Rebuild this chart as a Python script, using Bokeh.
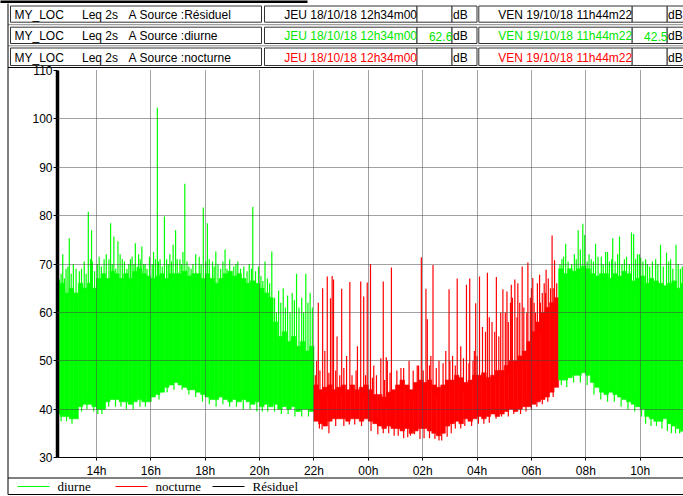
import numpy as np
from bokeh.plotting import figure
from bokeh.models import Range1d, FixedTicker, ColumnDataSource
from bokeh.embed import file_html
from bokeh.resources import INLINE
from bokeh.core.properties import value

# ---------------- data ----------------
# time in hours counted from midnight of JEU 18/10/18 (next day = 24 + h)
START_H = 12 + 34 / 60.0                      # JEU 18/10/18 12h34m00
END_H = 24 + 11 + 44 / 60.0 + 22 / 3600.0     # VEN 19/10/18 11h44m22
VIEW_END_H = 35.594                           # right edge of the visible window
NIGHT_START, NIGHT_END = 22.0, 31.0           # nocturne 22h -> 07h
BIN_H = 10 / 60.0
bin_start = 12.5 + BIN_H * np.arange(140)     # 10-min bins 12h30 ... 11h40

# lower envelope of each 10-min bin (dB)
level_low = [
    39, 38.5, 38.5,                      # 12h30-12h50
    38, 38, 40.5, 41, 41, 40.5,          # 13h
    40, 40, 41.5, 42, 42, 41.5,          # 14h
    41.5, 41, 41.5, 42, 41.5, 41.5,      # 15h
    42.5, 43, 43.5, 44.5, 45, 45.5,      # 16h
    45, 44.5, 44, 44, 43.5, 43,          # 17h
    42.5, 42, 42, 42.5, 42, 41.5,        # 18h
    42, 41.5, 42, 41.5, 41, 41.5,        # 19h
    40.5, 41, 40.5, 41, 40, 40.5,        # 20h
    40, 40.5, 39.5, 40, 40, 39.5,        # 21h
    37.5, 37, 36.5, 37.5, 38, 38,        # 22h
    38, 37.5, 38, 38, 37.5, 38,          # 23h
    37.5, 37, 36.5, 36, 36.5, 36,        # 00h
    36, 35.5, 36, 35, 35.5, 36,          # 01h
    36, 35.5, 35, 34.5, 35, 36.5,        # 02h
    37, 37.5, 37, 38, 37.5, 38,          # 03h
    38.5, 38, 38.5, 39, 38.5, 39,        # 04h
    39.5, 40, 39.5, 40, 40.5, 40.5,      # 05h
    41, 41.5, 42, 42.5, 43.5, 44.5,      # 06h
    46, 46, 46.5, 47, 47, 47.5,          # 07h
    47, 45.5, 44.5, 43.5, 43, 43.5,      # 08h
    43, 42.5, 42, 41.5, 41, 40.5,        # 09h
    40, 38.5, 38, 37.5, 37.5, 38,        # 10h
    37, 36.5, 36, 35.5, 36,              # 11h-11h40
]
# upper envelope of the dense part of each bin (dB)
level_high = [
    65, 66, 64,
    65, 64, 66, 65, 66, 65,
    67, 68, 67, 68.5, 68, 67,
    68, 67, 68.5, 69, 68, 67.5,
    67, 67.5, 68, 67, 68, 68,
    68, 68.5, 67.5, 68, 68, 67,
    68, 67, 66, 67, 68, 68.5,
    67.5, 68, 67, 66, 66.5, 66,
    65, 64, 63, 58, 55, 56,
    54, 55, 53, 54, 52, 53,
    45, 44, 44.5, 45, 44, 44.5,
    45, 44, 45, 44, 44.5, 45,
    44, 43, 43, 42.5, 43.5, 44,
    45, 46, 45, 44, 45.5, 46,
    45.5, 46, 45, 44.5, 45, 46,
    46, 47, 46.5, 45.5, 46, 47,
    47, 47.5, 46.5, 47, 48, 48,
    49, 50, 50, 51, 52, 54,
    56, 58, 60, 61, 62, 63,
    69, 68, 69, 68.5, 69, 69.5,
    69, 68, 67.5, 68, 68, 67,
    68, 67.5, 68.5, 68, 66.5, 67,
    67.5, 66, 67, 66.5, 66, 65.5,
    66, 66.5, 65, 66, 65,
]

# isolated high readings (time h, level dB)
diurne_peak_t = [
    12.76, 13.0, 13.70, 13.82, 14.52, 14.64, 14.79, 15.43, 15.67, 16.24,
    16.50, 16.91, 17.25, 17.93, 18.08, 18.39, 18.73, 19.75, 20.2, 20.45,
    12.64, 12.88, 13.25, 13.37, 13.55, 13.85, 14.1, 14.28, 14.46, 14.95,
    15.19, 15.31, 15.55, 15.79, 16.1, 16.34, 16.7, 16.82, 17.07, 17.18,
    17.48, 17.78, 18.27, 18.57, 19.05, 19.3, 19.54, 19.96, 20.29,
    20.55, 20.62, 20.7, 20.78, 20.87, 20.95, 21.03, 21.12, 21.2, 21.28,
    21.36, 21.45, 21.55, 21.62, 21.7, 21.78, 21.86, 21.94,
    12.7, 12.82, 12.95, 13.07, 13.15, 13.45, 13.62, 13.78, 13.93, 14.03,
    14.18, 14.36, 14.58, 14.71, 14.87, 15.03, 15.12, 15.25, 15.38, 15.5,
    15.61, 15.74, 15.86, 15.95, 16.05, 16.17, 16.28, 16.42, 16.58, 16.64,
    16.76, 16.97, 17.12, 17.33, 17.4, 17.55, 17.65, 17.85, 18.02, 18.15,
    18.33, 18.47, 18.65, 18.8, 18.9, 19.13, 19.2, 19.42, 19.62, 19.7,
    19.85, 20.05, 20.12, 20.37,
    31.26, 31.72, 31.89, 31.96, 32.36, 32.73, 32.99, 33.24, 33.68, 33.76,
    34.02, 34.57, 34.75, 34.97, 35.32, 31.18, 31.48, 32.2, 32.57, 32.87,
    33.42, 33.9, 34.27, 35.12, 35.48,
    31.05, 31.12, 31.35, 31.58, 31.65, 31.8, 32.05, 32.12, 32.28, 32.45,
    32.64, 32.8, 32.95, 33.08, 33.17, 33.33, 33.5, 33.6, 33.83, 33.97,
    34.1, 34.2, 34.35, 34.45, 34.65, 34.85, 35.05, 35.2, 35.4, 35.55,
]
diurne_peak_db = [
    72, 75.3, 80.8, 77, 78.4, 75.7, 74.7, 74.3, 73.6, 102.3,
    79.8, 77, 86.6, 81.7, 78.4, 72.6, 73, 81.8, 70.5, 72.6,
    66.8, 69, 69, 68.5, 70.5, 70.5, 71.5, 71, 71, 71,
    70, 71.5, 72, 70, 72.5, 71, 72, 74, 71, 72.5,
    69, 71.5, 70.5, 69, 69.5, 69, 68.5, 69.5, 67,
    63, 60, 64.5, 62, 65, 61, 63.5, 60, 64, 62.5,
    68, 61, 63, 60, 68, 62, 64, 61,
    68, 67, 69.5, 68, 70, 69, 68, 71, 68.5, 70,
    69.5, 72, 70, 69, 72, 70.5, 69, 71, 70, 69.5,
    71, 70, 69, 71.5, 70, 71, 70.5, 69.5, 71, 70,
    70.5, 71, 70, 70.5, 69.5, 70, 72, 70, 70.5, 71,
    69.5, 70, 70.5, 69, 71, 70, 70.5, 69.5, 70, 69,
    68.5, 67.5, 66.5, 66,
    74.2, 77, 78.3, 76, 74.2, 72.5, 75.3, 75.7, 76.5, 76.2,
    71.3, 71, 74, 72.3, 74, 71.5, 70, 71, 71.5, 70.5,
    71, 72, 70, 71, 69,
    70, 71, 70.5, 72, 71, 73, 70.5, 72, 70.5, 71.5,
    70, 72.5, 71, 70.5, 72, 70, 71.5, 70, 71, 72,
    70.5, 71, 69.5, 70.5, 70, 69.5, 70.5, 69, 70, 69.5,
]
nocturne_peak_t = [
    22.16, 22.32, 22.49, 22.61, 22.67, 22.72, 23.02, 23.32, 23.72, 23.83,
    23.96, 24.08, 24.46, 24.55, 24.66, 24.85, 25.95, 26.12, 26.17, 26.38,
    26.97, 27.27, 27.61, 27.73, 27.95, 28.09, 28.38, 28.71, 28.95, 29.26,
    29.5, 29.66, 29.87, 30.05, 30.3, 30.54, 30.76, 30.85, 29.1, 29.39,
    28.31, 28.55, 28.8, 29.04, 29.23, 29.47, 29.72, 29.96, 30.15, 30.33,
    30.52, 30.7, 30.88, 22.1, 22.4, 22.85, 23.2, 23.6, 24.2, 24.7,
    25.2, 25.5, 25.8, 26.3, 26.6, 26.85, 27.1, 27.4, 27.9,
    28.2, 28.45, 28.65, 28.87, 29.15, 29.3, 29.57, 29.83, 30.0, 30.1,
    30.22, 30.4, 30.47, 30.62, 30.8, 30.93,
    22.05, 22.22, 22.55, 22.8, 22.95, 23.1, 23.4, 23.55, 23.9, 24.15,
    24.3, 24.6, 24.8, 25.05, 25.3, 25.65, 25.85, 26.02, 26.25, 26.5,
    26.75, 27.0, 27.2, 27.5, 27.7, 27.85, 28.0,
]
nocturne_peak_db = [
    62, 65, 67.4, 62.9, 67.5, 66.8, 64.9, 66.3, 66.4, 63.3,
    66.2, 70, 50.5, 66.4, 50.7, 69.3, 71.4, 64.9, 58.6, 69.8,
    64.8, 67, 65.7, 67, 61.9, 67.4, 68.2, 67.3, 64.8, 65.7,
    66, 69.5, 70.3, 67.1, 67.8, 68.8, 75.9, 70.8, 64.3, 66.8,
    56, 58, 55, 60, 62, 59, 61, 63, 60, 62,
    64, 65, 63, 50, 52, 55, 51, 53, 49, 50,
    48.5, 50, 49, 51, 50, 52, 51, 53, 52,
    57, 59, 56, 60, 58, 63, 62, 60, 65, 62,
    66, 64, 66, 67, 65, 66,
    47, 48, 47.5, 48, 47, 48.5, 47, 48, 47, 46.5,
    47, 46, 47.5, 48, 48.5, 48, 49, 48, 49, 48.5,
    49.5, 50, 49, 50.5, 49.5, 50, 51,
]
# isolated low readings (time h, level dB)
diurne_dip_t = [
    12.7, 13.1, 13.45, 13.9, 14.2, 14.7, 15.1, 15.6, 16.0, 16.6,
    17.4, 17.9, 18.4, 18.9, 19.4, 19.9, 20.3, 20.8, 21.3, 21.8,
    31.3, 31.8, 32.3, 32.8, 33.3, 33.8, 34.2, 34.6, 35.0, 35.3, 35.5,
    12.6, 12.9, 13.3, 13.65, 14.05, 14.45, 14.9, 15.35, 15.8, 16.3,
    16.85, 17.15, 17.65, 18.15, 18.65, 19.15, 19.65, 20.1, 20.55, 21.05, 21.55,
    31.1, 31.55, 32.05, 32.55, 33.05, 33.55, 34.05, 34.4, 34.8, 35.15, 35.45,
]
diurne_dip_db = [
    37.5, 37, 39.5, 39.5, 39, 40.5, 40, 40.5, 41.5, 43.5,
    43, 41.5, 40.5, 40.5, 40, 39.5, 39.5, 39, 38.5, 38.5,
    44.5, 45.5, 43, 41.5, 40.5, 39.5, 37, 36.5, 35.5, 35, 35.2,
    38, 37.5, 39.5, 40, 39, 40.5, 40.5, 40, 40.5, 42,
    44, 44, 42.5, 41, 41, 40.5, 40, 39.5, 39.5, 39, 38.5,
    45, 45.5, 45, 42, 41.5, 40, 38.5, 36.5, 36, 35, 35,
]
nocturne_dip_t = [
    22.3, 22.55, 23.1, 23.5, 24.1, 24.35, 24.75, 25.1, 25.45, 25.7,
    26.05, 26.45, 26.7, 26.9, 27.2, 27.55, 28.05, 28.45, 28.9, 29.35,
    29.8, 30.2, 30.6,
    22.2, 22.8, 23.3, 23.75, 24.55, 24.95, 25.3, 25.55, 25.9, 26.25,
    26.6, 27.05, 27.4, 27.8, 28.25, 28.7, 29.15, 29.6, 30.0, 30.4, 30.8,
]
nocturne_dip_db = [
    35.8, 35, 36.5, 36.8, 35.5, 34.8, 35, 34.5, 34.2, 34.8,
    34, 33.8, 33.5, 34.3, 36, 36.5, 37, 37.2, 38.5, 39,
    39.5, 40.5, 41.5,
    36, 36.5, 36.8, 36.5, 35, 34.5, 34, 34.5, 33.8, 34,
    33.5, 35, 36, 36.5, 37, 38, 38.5, 39, 40, 41, 42.5,
]

x_ticks = [14, 16, 18, 20, 22, 24, 26, 28, 30, 32, 34]
x_tick_labels = ["14h", "16h", "18h", "20h", "22h", "00h", "02h", "04h", "06h", "08h", "10h"]
y_ticks = [30, 40, 50, 60, 70, 80, 90, 100, 110]

# header rows: (source, colour, value at start, value at end)
sources = ["Résiduel", "diurne", "nocturne"]
source_colors = ["#000000", "#00e600", "#ff0000"]
start_values = ["", "62.6", ""]
end_values = ["", "42.5", ""]
start_label = "JEU 18/10/18 12h34m00"
end_label = "VEN 19/10/18 11h44m22"
legend_names = ["diurne", "nocturne", "Résiduel"]

GREEN = "#00ff00"
RED = "#ff0000"
FONT = "Liberation Sans"

# ---------------- figure ----------------
FL, FR, FT, FB = 57, 683, 70, 457       # frame edges on the page (px)
p = figure(width=683, height=496, x_range=Range1d(START_H, VIEW_END_H),
           y_range=Range1d(30, 110), toolbar_location=None, output_backend="svg",
           min_border_left=FL, min_border_right=683 - FR, min_border_top=FT,
           min_border_bottom=496 - FB)
p.outline_line_color = None
p.background_fill_color = "white"
p.border_fill_color = "white"
# pixel-like ranges used for the header table and the legend strip
p.extra_x_ranges = {"px": Range1d(FL, FR)}
p.extra_y_ranges = {"py": Range1d(FB, FT)}

centers = bin_start + BIN_H / 2
colors = [GREEN if (c < NIGHT_START or c >= NIGHT_END) else RED for c in centers]
src = ColumnDataSource(dict(x=centers, lo=level_low, hi=level_high, c=colors))
p.vbar(x="x", width=BIN_H, bottom="lo", top="hi", fill_color="c", line_color="c",
       line_width=0.6, source=src)


def bin_of(ts):
    return np.clip(((np.array(ts) - 12.5) / BIN_H).astype(int), 0, len(level_low) - 1)


p.segment(x0=diurne_peak_t, y0=[level_high[i] - 2 for i in bin_of(diurne_peak_t)],
          x1=diurne_peak_t, y1=diurne_peak_db, line_color=GREEN, line_width=1.2)
p.segment(x0=nocturne_peak_t, y0=[level_high[i] - 2 for i in bin_of(nocturne_peak_t)],
          x1=nocturne_peak_t, y1=nocturne_peak_db, line_color=RED, line_width=1.2)
p.segment(x0=diurne_dip_t, y0=[level_low[i] + 2 for i in bin_of(diurne_dip_t)],
          x1=diurne_dip_t, y1=diurne_dip_db, line_color=GREEN, line_width=1.2)
p.segment(x0=nocturne_dip_t, y0=[level_low[i] + 2 for i in bin_of(nocturne_dip_t)],
          x1=nocturne_dip_t, y1=nocturne_dip_db, line_color=RED, line_width=1.2)

p.xaxis.ticker = FixedTicker(ticks=x_ticks)
p.xaxis.major_label_overrides = {k: v for k, v in zip(x_ticks, x_tick_labels)}
p.yaxis.ticker = FixedTicker(ticks=y_ticks)
for ax in (p.xaxis[0], p.yaxis[0]):
    ax.major_label_text_font = FONT
    ax.major_label_text_font_size = "12px"
    ax.major_label_text_color = "#000000"
    ax.axis_line_color = "#000000"
    ax.major_tick_line_color = "#000000"
    ax.minor_tick_line_color = None
    ax.major_tick_in = 0
p.yaxis.axis_line_width = 3.5
p.yaxis.major_tick_out = 4
p.yaxis.major_label_standoff = 1
p.xaxis.axis_line_width = 1
p.xaxis.major_tick_out = 3
p.xaxis.major_label_standoff = 3

for g in (p.xgrid[0], p.ygrid[0]):
    g.grid_line_color = "#444444"
    g.grid_line_dash = "1 1"
    g.grid_line_width = 1
    g.level = "overlay"

PX = dict(x_range_name="px", y_range_name="py", level="overlay")

# ---------------- header table ----------------
row_top = [5.5, 26.7, 47.5]
row_bot = [21.7, 43, 65]
cell_l = [10, 264, 416.5, 451.5, 478.3, 631.7, 666.7]
cell_r = [261, 416.5, 451.5, 476.5, 631.7, 666.7, 700]
ql, qr, qt, qb = [], [], [], []
for t, b in zip(row_top, row_bot):
    for l, r in zip(cell_l, cell_r):
        ql.append(l); qr.append(r); qt.append(t); qb.append(b)
p.quad(left=ql, right=qr, top=qt, bottom=qb, fill_color="white",
       line_color="#333333", line_width=1, **PX)
p.quad(left=[0], right=[307], top=[0], bottom=[2.5], fill_color="#000000",
       line_color=None, **PX)
p.segment(x0=[7.5, 7.5], y0=[24.2, 45.3], x1=[700, 700], y1=[24.2, 45.3],
          line_color="#888888", line_width=1, **PX)
p.segment(x0=[7.5, 7.5, 7.5, 7.5], y0=[3, 67, 477.5, 494], x1=[7.5, 700, 700, 700],
          y1=[494, 67, 477.5, 494], line_color="#000000", line_width=1, **PX)
for i, (s, col) in enumerate(zip(sources, source_colors)):
    yc = (row_top[i] + row_bot[i]) / 2 + 0.8
    p.text(x=[14, 81.5, 128, 139], y=[yc] * 4,
           text=["MY_LOC", "Leq 2s", "A", "Source :" + s],
           text_font=value(FONT), text_font_size="12px", text_color="#000000",
           text_baseline="middle", text_align="left", **PX)
    p.text(x=[416.5, 451.8, 631.7, 666.9], y=[yc] * 4,
           text=[start_label, start_values[i], end_label, end_values[i]],
           text_font=value(FONT), text_font_size="12px", text_color=col,
           text_baseline="middle", text_align="right", **PX)
    p.text(x=[452.5, 667.5], y=[yc] * 2, text=["dB", "dB"],
           text_font=value(FONT), text_font_size="12px", text_color="#000000",
           text_baseline="middle", text_align="left", **PX)

# ---------------- legend strip ----------------
legend_colors = [GREEN, RED, "#000000"]
legend_x = [17, 115, 212]
p.segment(x0=legend_x, y0=[486] * 3, x1=[x + 32 for x in legend_x], y1=[486] * 3,
          line_color=legend_colors, line_width=1, **PX)
p.text(x=[x + 40 for x in legend_x], y=[486] * 3, text=legend_names,
       text_font=value("Liberation Serif"), text_font_size="13px",
       text_color="#000000", text_baseline="middle", text_align="left", **PX)

open("out.html", "w").write(file_html(p, INLINE))
